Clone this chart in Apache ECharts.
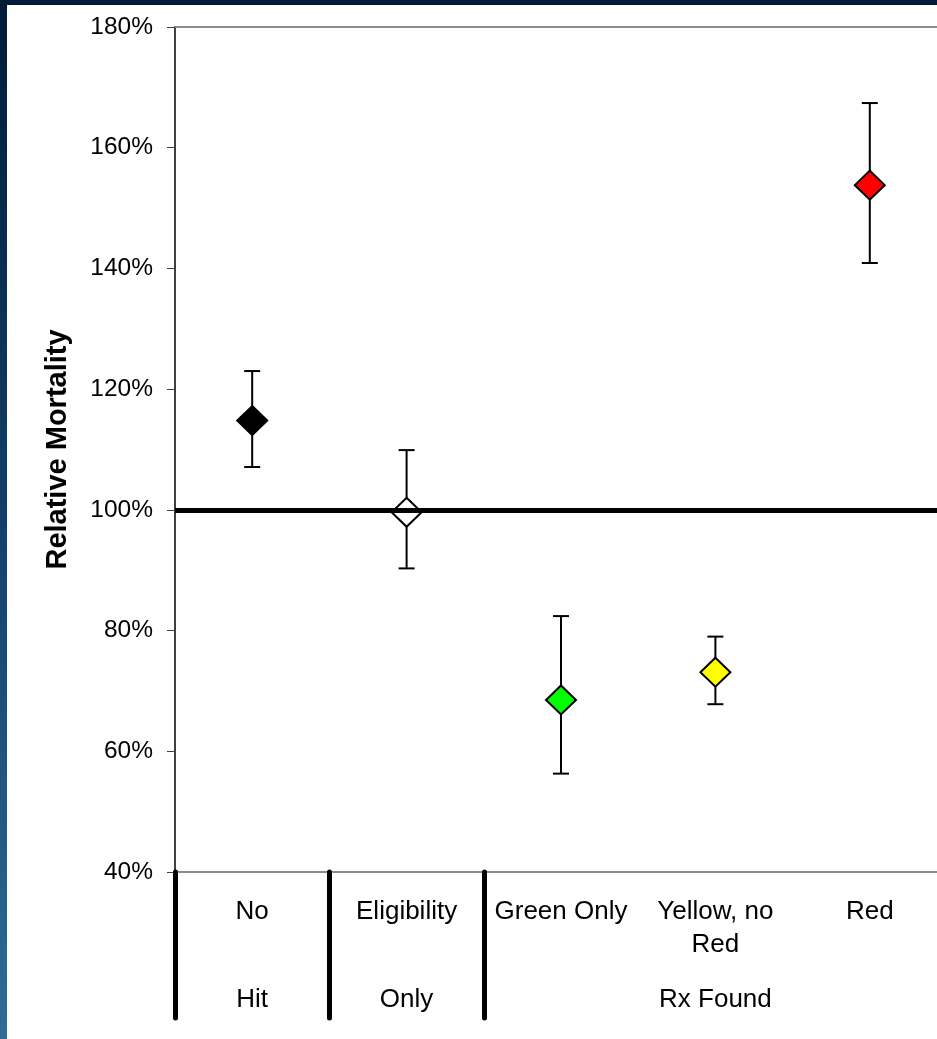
<!DOCTYPE html>
<html>
<head>
<meta charset="utf-8">
<script src="https://cdn.jsdelivr.net/npm/echarts@6/dist/echarts.min.js"></script>
<style>
    html, body {
        margin: 0;
        padding: 0;
        width: 937px;
        height: 1039px;
        overflow: hidden;
        background: linear-gradient(to bottom, #011b38 0%, #124068 50%, #2f6c96 100%);
    }
    #chart {
        position: absolute;
        left: 7px;
        top: 5px;
        width: 950px;
        height: 1034px;
        background: #ffffff;
    }
</style>
</head>
<body>
<div id="chart"></div>
<script>
// categories (first row of axis labels) and the group labels under them
var categories = ['No', 'Eligibility', 'Green Only', 'Yellow, no\nRed', 'Red'];
var groupLabels = ['Hit', 'Only', '', 'Rx Found', ''];

// relative mortality, in percent
var pointValues = [114.8, 99.6, 68.5, 73.1, 153.8];
var upperValues = [123.0, 109.9, 82.4, 79.0, 167.4];
var lowerValues = [107.1, 90.3, 56.3, 67.8, 140.9];
var markerColors = ['#000000', '#ffffff', '#00ff00', '#ffff00', '#ff0000'];

// y axis ticks
var yMin = 40;
var yMax = 180;
var yStep = 20;
var baseline = 100;

// category boundaries that get a thick separator
var separatorIndex = [0, 1, 2];

var fontFamily = 'Arial, "Liberation Sans", sans-serif';

var myChart = echarts.init(document.getElementById('chart'));

/**
 * error bar: vertical line with two caps
 */
function renderErrorBar(params, api) {
    var x = api.value(0);
    var lo = api.coord([x, api.value(1)]);
    var hi = api.coord([x, api.value(2)]);
    var half = 8;
    var style = {stroke: '#000000', lineWidth: 2, fill: null};
    return {
        type: 'group',
        children: [
            {type: 'line', shape: {x1: lo[0], y1: lo[1], x2: hi[0], y2: hi[1]}, style: style},
            {type: 'line', shape: {x1: lo[0] - half, y1: lo[1], x2: lo[0] + half, y2: lo[1]}, style: style},
            {type: 'line', shape: {x1: hi[0] - half, y1: hi[1], x2: hi[0] + half, y2: hi[1]}, style: style}
        ]
    };
}

var errorData = [];
var pointData = [];
for (var i = 0; i < categories.length; i++) {
    errorData.push([i, lowerValues[i], upperValues[i]]);
    pointData.push({
        value: [i, pointValues[i]],
        itemStyle: {color: markerColors[i]}
    });
}

var option = {
    animation: false,
    grid: {
        left: 168,
        top: 22,
        width: 772,
        height: 845
    },
    xAxis: [{
        type: 'category',
        data: categories,
        boundaryGap: true,
        position: 'bottom',
        axisLine: {
            show: true,
            lineStyle: {color: '#8c8c8c', width: 2}
        },
        axisTick: {
            show: true,
            inside: false,
            length: 146,
            interval: function (index) {
                return separatorIndex.indexOf(index) >= 0;
            },
            lineStyle: {color: '#000000', width: 5, cap: 'round'}
        },
        axisLabel: {
            interval: 0,
            margin: 23,
            color: '#000000',
            fontSize: 26,
            lineHeight: 33,
            fontFamily: fontFamily,
            verticalAlign: 'top'
        },
        splitLine: {show: false}
    }, {
        type: 'category',
        data: groupLabels,
        boundaryGap: true,
        position: 'bottom',
        axisLine: {show: false},
        axisTick: {show: false},
        axisLabel: {
            interval: 0,
            margin: 111,
            color: '#000000',
            fontSize: 26,
            lineHeight: 33,
            fontFamily: fontFamily,
            verticalAlign: 'top'
        },
        splitLine: {show: false}
    }],
    yAxis: {
        type: 'value',
        min: yMin,
        max: yMax,
        interval: yStep,
        name: 'Relative Mortality',
        nameLocation: 'middle',
        nameGap: 103,
        nameTextStyle: {
            color: '#000000',
            fontSize: 29,
            fontWeight: 'bold',
            fontFamily: fontFamily
        },
        axisLine: {
            show: true,
            lineStyle: {color: '#404040', width: 2}
        },
        axisTick: {
            show: true,
            inside: false,
            length: 8,
            lineStyle: {color: '#404040', width: 1}
        },
        axisLabel: {
            margin: 22,
            color: '#000000',
            fontSize: 24.5,
            fontFamily: fontFamily,
            formatter: '{value}%'
        },
        splitLine: {show: false}
    },
    series: [{
        type: 'line',
        data: [],
        silent: true,
        markLine: {
            silent: true,
            symbol: 'none',
            label: {show: false},
            data: [{
                yAxis: yMax,
                lineStyle: {color: '#8c8c8c', width: 2, type: 'solid'}
            }, {
                yAxis: baseline,
                lineStyle: {color: '#000000', width: 5, type: 'solid'}
            }]
        }
    }, {
        type: 'custom',
        renderItem: renderErrorBar,
        data: errorData,
        z: 3
    }, {
        type: 'scatter',
        symbol: 'diamond',
        symbolSize: [30, 29],
        data: pointData,
        itemStyle: {
            borderColor: '#000000',
            borderWidth: 2,
            opacity: 1
        },
        z: 4
    }]
};

myChart.setOption(option);
</script>
</body>
</html>
